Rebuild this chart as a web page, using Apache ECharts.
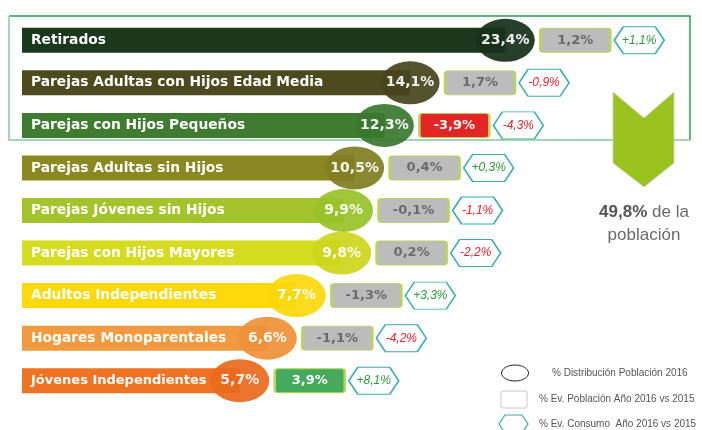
<!DOCTYPE html>
<html>
<head>
<meta charset="utf-8">
<script src="https://cdn.jsdelivr.net/npm/echarts@6/dist/echarts.min.js"></script>
<style>
html, body { margin: 0; padding: 0; background: #fff; }
#chart { width: 702px; height: 430px; }
</style>
</head>
<body>
<div id="chart"></div>
<script>
// segmentos
const categories = [
  'Retirados',
  'Parejas Adultas con Hijos Edad Media',
  'Parejas con Hijos Pequeños',
  'Parejas Adultas sin Hijos',
  'Parejas Jóvenes sin Hijos',
  'Parejas con Hijos Mayores',
  'Adultos Independientes',
  'Hogares Monoparentales',
  'Jóvenes Independientes'
]
// % distribucion poblacion 2016
const distribucion = [23.4, 14.1, 12.3, 10.5, 9.9, 9.8, 7.7, 6.6, 5.7]
// % ev. poblacion 2016 vs 2015
const evPoblacion = [1.2, 1.7, -3.9, 0.4, -0.1, 0.2, -1.3, -1.1, 3.9]
// % ev. consumo 2016 vs 2015
const evConsumo = [1.1, -0.9, -4.3, 0.3, -1.1, -2.2, 3.3, -4.2, 8.1]

const barColors = ['#1b371c', '#4e4a1f', '#3f7b31', '#898823', '#a3c52b', '#d6dc1f', '#fdd90b', '#f29a40', '#ee7424']
const ovalColors = ['#17301a', '#48451e', '#3b772f', '#807e20', '#99c22a', '#cdd61d', '#fcd70c', '#ef923a', '#ea6b1e']

const fmt = (v, plus) => (plus && v > 0 ? '+' : '') + v.toFixed(1).replace('.', ',') + '%'
const top3 = distribucion.slice(0, 3).reduce((a, b) => a + b, 0)

const boxColor = v => v <= -3 ? '#e32526' : (v >= 3 ? '#45aa5c' : '#bdbcbd')
const hexPath = 'path://M0,13.5 L9,0 L41,0 L50,13.5 L41,27 L9,27 Z'
const boxPath = 'path://M3,0 L67,0 Q70,0 70,3 L70,21 Q70,24 67,24 L3,24 Q0,24 0,21 L0,3 Q0,0 3,0 Z'

const chart = echarts.init(document.getElementById('chart'))

const option = {
  animation: false,
  grid: { left: 22, width: 530, top: 19, height: 383 },
  xAxis: { type: 'log', min: 1.79, max: 30, show: false },
  yAxis: {
    type: 'category',
    // the last label is a bit narrower in the original
    data: categories.map((c, i) => i === categories.length - 1 ? { value: c, textStyle: { fontSize: 13 } } : c),
    inverse: true,
    z: 10,
    axisLine: { show: false },
    axisTick: { show: false },
    splitLine: { show: false },
    axisLabel: {
      inside: true,
      margin: 9,
      color: '#fff',
      fontFamily: 'DejaVu Sans',
      fontWeight: 'bold',
      fontSize: 13.8
    }
  },
  series: [
    {
      type: 'bar',
      barWidth: 25,
      clip: true,
      z: 2,
      data: distribucion.map((v, i) => ({ value: v, itemStyle: { color: barColors[i] } }))
    },
    {
      // ovalos % distribucion
      type: 'scatter',
      symbol: 'circle',
      symbolSize: [59, 43],
      z: 3,
      data: distribucion.map((v, i) => ({ value: [v, i], itemStyle: { color: ovalColors[i], opacity: 0.93 } })),
      label: {
        show: true,
        position: 'inside',
        formatter: p => fmt(distribucion[p.dataIndex]),
        color: '#fff',
        fontFamily: 'DejaVu Sans',
        fontWeight: 'bold',
        fontSize: 14
      }
    },
    {
      // cajas % ev. poblacion
      type: 'scatter',
      symbol: boxPath,
      symbolSize: [70, 24],
      symbolOffset: [70, 0],
      z: 3,
      data: distribucion.map((v, i) => ({
        value: [v, i],
        itemStyle: { color: boxColor(evPoblacion[i]), borderColor: '#b9d65a', borderWidth: 1.5, opacity: 1 },
        label: { color: Math.abs(evPoblacion[i]) >= 3 ? '#fff' : '#6a6a6a' }
      })),
      label: {
        show: true,
        position: 'inside',
        formatter: p => fmt(evPoblacion[p.dataIndex]),
        fontFamily: 'DejaVu Sans',
        fontWeight: 'bold',
        fontSize: 13
      }
    },
    {
      // hexagonos % ev. consumo
      type: 'scatter',
      symbol: hexPath,
      symbolSize: [50, 27],
      symbolOffset: [134, 0],
      z: 3,
      data: distribucion.map((v, i) => ({
        value: [v, i],
        itemStyle: { color: '#fff', borderColor: '#3aabb3', borderWidth: 1.3, opacity: 1 },
        label: { color: evConsumo[i] > 0 ? '#2f9a3c' : '#e8232b' }
      })),
      label: {
        show: true,
        position: 'inside',
        formatter: p => fmt(evConsumo[p.dataIndex], true),
        fontFamily: 'Liberation Sans',
        fontStyle: 'italic',
        fontSize: 12
      }
    }
  ],
  graphic: [
    // recuadro top 3
    { type: 'polyline', shape: { points: [[9, 16], [690, 16], [690, 140]] }, style: { stroke: '#2a9d55', lineWidth: 1.5, fill: null } },
    { type: 'polyline', shape: { points: [[9, 16], [9, 140], [690, 140]] }, style: { stroke: '#86c99c', lineWidth: 1.5, fill: null } },
    {
      type: 'polygon',
      z: 5,
      shape: { points: [[613, 92], [644, 118], [674, 92], [674, 163], [644, 187], [613, 163]] },
      style: { fill: '#9bc31f', stroke: '#c9d0c0', lineWidth: 0.8 }
    },
    {
      type: 'text', x: 644, y: 212,
      style: {
        text: '{b|' + fmt(top3) + '} de la',
        align: 'center', verticalAlign: 'middle',
        font: '17px "Liberation Sans"', fill: '#6a6a6a',
        rich: { b: { font: 'bold 17px "Liberation Sans"', fill: '#555' } }
      }
    },
    {
      type: 'text', x: 644, y: 235,
      style: { text: 'población', align: 'center', verticalAlign: 'middle', font: '17px "Liberation Sans"', fill: '#6a6a6a' }
    },
    // leyenda
    { type: 'ellipse', shape: { cx: 515, cy: 373, rx: 13.5, ry: 8 }, style: { fill: '#fff', stroke: '#222', lineWidth: 1 } },
    { type: 'rect', shape: { x: 501, y: 391, width: 26, height: 17, r: 2 }, style: { fill: '#fff', stroke: '#c8c8c8', lineWidth: 1 } },
    {
      type: 'polygon',
      shape: { points: [[499, 424], [505, 415], [522, 415], [528, 424], [522, 433], [505, 433]] },
      style: { fill: '#fff', stroke: '#3aabb3', lineWidth: 1.2 }
    },
    { type: 'text', x: 552, y: 373, style: { text: '% Distribución Población 2016', verticalAlign: 'middle', font: '10px "Liberation Sans"', fill: '#555' } },
    { type: 'text', x: 539, y: 399, style: { text: '% Ev. Población Año 2016 vs 2015', verticalAlign: 'middle', font: '10px "Liberation Sans"', fill: '#555' } },
    { type: 'text', x: 539, y: 424, style: { text: '% Ev. Consumo  Año 2016 vs 2015', verticalAlign: 'middle', font: '10px "Liberation Sans"', fill: '#555' } }
  ]
}

chart.setOption(option)
</script>
</body>
</html>
